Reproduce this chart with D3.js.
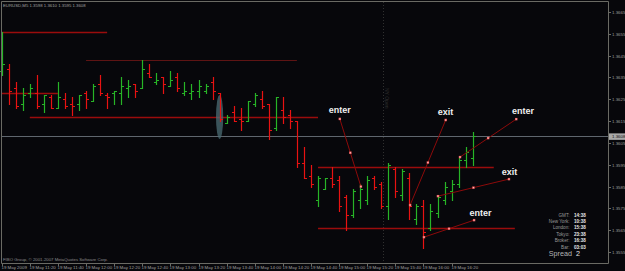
<!DOCTYPE html>
<html>
<head>
<meta charset="utf-8">
<script src="https://cdn.jsdelivr.net/npm/d3@7"></script>
<style>
  html, body { margin: 0; padding: 0; background: #07070b; }
  svg { display: block; }
</style>
</head>
<body>
<div id="chart"></div>
<script>
// EURUSD M5, 19 May 2009, one bar every 5 minutes starting 11:00
const symbol = "EURUSD,M5";
const opens = [
  1.3638, 1.3639, 1.3630, 1.3623, 1.3628, 1.3628, 1.3623, 1.3626, 1.3621, 1.3625,
  1.3623, 1.3623, 1.3628, 1.3624, 1.3632, 1.3627, 1.3628, 1.3628, 1.3630, 1.3632,
  1.3630, 1.3637, 1.3633, 1.3635, 1.3631, 1.3635, 1.3628, 1.3628, 1.3629, 1.3629,
  1.3633, 1.3628, 1.3614, 1.3619, 1.3616, 1.3615, 1.3623, 1.3625, 1.3623, 1.3612,
  1.3620, 1.3618, 1.3615, 1.3596, 1.3590, 1.3579, 1.3584, 1.3589, 1.3588, 1.3580,
  1.3572, 1.3579, 1.3579, 1.3589, 1.3586, 1.3576, 1.3593, 1.3581, 1.3589, 1.3570,
  1.3576, 1.3566, 1.3573, 1.3579, 1.3583, 1.3586, 1.3597, 1.3598
];
const highs = [
  1.3656, 1.3641, 1.3633, 1.3630, 1.3632, 1.3636, 1.3627, 1.3627, 1.3633, 1.3628,
  1.3626, 1.3627, 1.3629, 1.3632, 1.3636, 1.3628, 1.3629, 1.3635, 1.3634, 1.3632,
  1.3643, 1.3641, 1.3637, 1.3635, 1.3638, 1.3637, 1.3633, 1.3632, 1.3634, 1.3632,
  1.3635, 1.3628, 1.3618, 1.3622, 1.3621, 1.3624, 1.3628, 1.3629, 1.3623, 1.3626,
  1.3626, 1.3620, 1.3615, 1.3603, 1.3595, 1.3590, 1.3589, 1.3594, 1.3590, 1.3581,
  1.3584, 1.3586, 1.3590, 1.3590, 1.3587, 1.3596, 1.3594, 1.3593, 1.3591, 1.3577,
  1.3579, 1.3577, 1.3581, 1.3587, 1.3588, 1.3598, 1.3603, 1.3610
];
const lows = [
  1.3636, 1.3623, 1.3621, 1.3620, 1.3626, 1.3621, 1.3619, 1.3621, 1.3621, 1.3621,
  1.3618, 1.3620, 1.3621, 1.3624, 1.3627, 1.3621, 1.3623, 1.3623, 1.3626, 1.3626,
  1.3630, 1.3635, 1.3632, 1.3628, 1.3631, 1.3629, 1.3627, 1.3625, 1.3626, 1.3628,
  1.3625, 1.3615, 1.3614, 1.3615, 1.3611, 1.3615, 1.3622, 1.3621, 1.3607, 1.3611,
  1.3614, 1.3612, 1.3594, 1.3589, 1.3585, 1.3576, 1.3584, 1.3585, 1.3574, 1.3565,
  1.3571, 1.3575, 1.3577, 1.3584, 1.3575, 1.3570, 1.3580, 1.3579, 1.3570, 1.3568,
  1.3557, 1.3565, 1.3571, 1.3577, 1.3579, 1.3585, 1.3594, 1.3595
];
const closes = [
  1.3641, 1.3629, 1.3622, 1.3627, 1.3630, 1.3622, 1.3627, 1.3621, 1.3626, 1.3622,
  1.3622, 1.3627, 1.3625, 1.3631, 1.3628, 1.3626, 1.3629, 1.3631, 1.3631, 1.3629,
  1.3639, 1.3635, 1.3634, 1.3632, 1.3634, 1.3630, 1.3629, 1.3629, 1.3631, 1.3631,
  1.3629, 1.3616, 1.3617, 1.3615, 1.3615, 1.3624, 1.3627, 1.3622, 1.3611, 1.3626,
  1.3617, 1.3615, 1.3596, 1.3589, 1.3586, 1.3589, 1.3589, 1.3586, 1.3576, 1.3572,
  1.3583, 1.3584, 1.3588, 1.3585, 1.3576, 1.3595, 1.3583, 1.3592, 1.3576, 1.3576,
  1.3564, 1.3574, 1.3580, 1.3585, 1.3586, 1.3597, 1.3601, 1.3608
];

// time axis: a label every 4th bar
const timeLabels = [
  "19 May 2009", "19 May 11:20", "19 May 11:40", "19 May 12:00", "19 May 12:20",
  "19 May 12:40", "19 May 13:00", "19 May 13:20", "19 May 13:40", "19 May 14:00",
  "19 May 14:20", "19 May 14:40", "19 May 15:00", "19 May 15:20", "19 May 15:40",
  "19 May 16:00", "19 May 16:20"
];
const priceTicks = [
  1.3665, 1.3655, 1.3645, 1.3635, 1.3625, 1.3615,
  1.3605, 1.3595, 1.3585, 1.3575, 1.3565, 1.3555
];

// horizontal levels: price, first bar, last bar
const levelPrices = [1.3656, 1.3643, 1.3628, 1.3617, 1.3594, 1.3566];
const levelFrom = [0, 12, 0, 4, 45, 45];
const levelTo = [15, 42, 8, 45, 70, 73];

// trend lines drawn on the chart, bar index / price of both ends
const tradeNames = ["enter", "exit", "enter", "exit", "enter"];
const tradeStart = [[51.1, 1.3585], [58.1, 1.35765], [65.2, 1.35985], [62.06, 1.35806], [60.07, 1.35618]];
const tradeEnd = [[48.1, 1.3616], [63.16, 1.36155], [73.2, 1.36159], [72.16, 1.35884], [67.2, 1.35696]];
const tradeLabelAt = [[48.08, 1.36187], [63.13, 1.36178], [74.16, 1.36182], [72.23, 1.35902], [68.1, 1.35717]];

const clockNames = ["GMT:", "New York:", "London:", "Tokyo:", "Broker:", "Bar:"];
const clockValues = ["14:38", "10:38", "15:38", "23:38", "16:38", "03:03"];
const spread = 2;

class mtChart {
  constructor(_config) {
    this.config = {
      parentElement: _config.parentElement,
      containerWidth: _config.containerWidth || 625,
      containerHeight: _config.containerHeight || 271,
      plotRight: 608,
      plotBottom: 263,
    };
    this.initVis();
  }

  initVis() {
    let vis = this;

    vis.svg = d3
      .select(vis.config.parentElement)
      .append("svg")
      .attr("width", vis.config.containerWidth)
      .attr("height", vis.config.containerHeight)
      .style("font-family", "'Liberation Sans', Arial, sans-serif");

    vis.svg
      .append("rect")
      .attr("width", vis.config.containerWidth)
      .attr("height", vis.config.containerHeight)
      .attr("fill", "#07070b");

    vis.x = d3.scaleLinear().domain([-0.24, 86.25]).range([0, vis.config.plotRight]);
    vis.y = d3.scaleLinear().domain([1.3555, 1.3665]).range([252, 12]);

    vis.bars = opens.map((o, i) => ({
      i: i,
      o: o,
      h: highs[i],
      l: lows[i],
      c: closes[i],
    }));

    vis.renderVis();
  }

  renderVis() {
    let vis = this;
    const crisp = (v) => Math.round(v) + 0.5;
    const W = vis.config.plotRight;
    const H = vis.config.plotBottom;
    const last = vis.bars[vis.bars.length - 1];

    // vertical line (session marker) and its caption
    const vx = crisp(vis.x(54.3));
    vis.svg
      .append("line")
      .attr("x1", vx).attr("x2", vx)
      .attr("y1", 2).attr("y2", H)
      .attr("stroke", "#303030")
      .attr("stroke-dasharray", "1,2");
    vis.svg
      .append("text")
      .attr("transform", `translate(${vx + 1.5},88) rotate(90)`)
      .attr("font-size", 5)
      .attr("fill", "#2e2e2e")
      .text("NY Open");

    // bid line
    vis.svg
      .append("line")
      .attr("x1", 2).attr("x2", W)
      .attr("y1", crisp(vis.y(last.c))).attr("y2", crisp(vis.y(last.c)))
      .attr("stroke", "#5f666e");

    // horizontal levels
    vis.svg
      .append("g")
      .selectAll("line")
      .data(levelPrices)
      .join("line")
      .attr("x1", (d, k) => vis.x(levelFrom[k]))
      .attr("x2", (d, k) => vis.x(levelTo[k]))
      .attr("y1", (d) => crisp(vis.y(d)))
      .attr("y2", (d) => crisp(vis.y(d)))
      .attr("stroke", (d, k) => (k === 1 ? "#5e1414" : "#9a0c0c"))
      .attr("stroke-width", (d, k) => (k === 1 ? 1 : 1.3));

    // ellipse marker
    vis.svg
      .append("ellipse")
      .attr("cx", vis.x(31))
      .attr("cy", vis.y(1.36169))
      .attr("rx", 3.6)
      .attr("ry", 22)
      .attr("fill", "#4c6e76")
      .attr("opacity", 0.75);

    // OHLC bars
    const g = vis.svg.append("g");
    vis.bars.forEach((d) => {
      const cx = crisp(vis.x(d.i));
      const col = d.c >= d.o ? "#27b427" : "#e81212";
      g.append("line")
        .attr("x1", cx).attr("x2", cx)
        .attr("y1", Math.round(vis.y(d.h))).attr("y2", Math.round(vis.y(d.l)) + 1)
        .attr("stroke", col)
        .attr("stroke-width", 1.2);
      g.append("line")
        .attr("x1", cx - 2.5).attr("x2", cx)
        .attr("y1", crisp(vis.y(d.o))).attr("y2", crisp(vis.y(d.o)))
        .attr("stroke", col);
      g.append("line")
        .attr("x1", cx).attr("x2", cx + 2.5)
        .attr("y1", crisp(vis.y(d.c))).attr("y2", crisp(vis.y(d.c)))
        .attr("stroke", col);
    });

    // trend lines with the enter / exit notes
    tradeNames.forEach((name, k) => {
      const a = [vis.x(tradeStart[k][0]), vis.y(tradeStart[k][1])];
      const b = [vis.x(tradeEnd[k][0]), vis.y(tradeEnd[k][1])];
      vis.svg
        .append("line")
        .attr("x1", a[0]).attr("y1", a[1])
        .attr("x2", b[0]).attr("y2", b[1])
        .attr("stroke", "#8c0a0a");
      [a, [(a[0] + b[0]) / 2, (a[1] + b[1]) / 2], b].forEach((p) => {
        vis.svg
          .append("rect")
          .attr("x", p[0] - 1.2).attr("y", p[1] - 1.2)
          .attr("width", 2.4).attr("height", 2.4)
          .attr("fill", "#f06060");
        vis.svg
          .append("rect")
          .attr("x", p[0] - 0.5).attr("y", p[1] - 0.5)
          .attr("width", 1).attr("height", 1)
          .attr("fill", "#ffd0d0");
      });
      vis.svg
        .append("text")
        .attr("x", vis.x(tradeLabelAt[k][0]))
        .attr("y", vis.y(tradeLabelAt[k][1]))
        .attr("text-anchor", "middle")
        .attr("font-size", 9)
        .attr("font-weight", "bold")
        .attr("fill", "#f0f0f0")
        .text(name);
    });

    // frame
    vis.svg
      .append("path")
      .attr("d", `M1.5,${H + 0.5}V1.5H${W + 0.5}V${H + 0.5}H1.5`)
      .attr("fill", "none")
      .attr("stroke", "#6a6a64");

    // price axis
    const pa = vis.svg.append("g").attr("font-size", 4.4).attr("fill", "#9c9c9c");
    priceTicks.forEach((p) => {
      const py = crisp(vis.y(p));
      pa.append("line")
        .attr("x1", W).attr("x2", W + 3)
        .attr("y1", py).attr("y2", py)
        .attr("stroke", "#6a6a64");
      pa.append("text")
        .attr("x", W + 4)
        .attr("y", py)
        .attr("dy", "0.35em")
        .text(p.toFixed(4));
    });
    const cy = vis.y(last.c);
    pa.append("rect")
      .attr("x", W + 1).attr("y", cy - 3)
      .attr("width", 17).attr("height", 6.5)
      .attr("fill", "#a8a8a8");
    pa.append("text")
      .attr("x", W + 4).attr("y", cy)
      .attr("dy", "0.35em")
      .attr("fill", "#101010")
      .text(last.c.toFixed(4));

    // time axis
    const ta = vis.svg.append("g").attr("font-size", 4.4).attr("fill", "#a0a0a0");
    timeLabels.forEach((t, k) => {
      const tx = crisp(vis.x(k * 4));
      ta.append("line")
        .attr("x1", tx).attr("x2", tx)
        .attr("y1", H).attr("y2", H + 3)
        .attr("stroke", "#6a6a64");
      ta.append("text")
        .attr("x", tx - 1)
        .attr("y", 269)
        .text(t);
    });

    // header and footer
    vis.svg
      .append("text")
      .attr("x", 3).attr("y", 6.5)
      .attr("font-size", 4.3)
      .attr("fill", "#a0a0a0")
      .text(`${symbol}  ${last.o.toFixed(4)} ${last.h.toFixed(4)} ${last.l.toFixed(4)} ${last.c.toFixed(4)}`);
    vis.svg
      .append("text")
      .attr("x", 3).attr("y", 261)
      .attr("font-size", 4.3)
      .attr("fill", "#8c8c8c")
      .text("FIBO Group, \u00a9 2001-2007 MetaQuotes Software Corp.");

    // clocks panel
    const cp = vis.svg.append("g").attr("font-size", 4.6);
    clockNames.forEach((n, k) => {
      const ry = 216.5 + k * 6.4;
      cp.append("text")
        .attr("x", 569.5).attr("y", ry)
        .attr("text-anchor", "end")
        .attr("fill", "#9a9a9a")
        .text(n);
      cp.append("text")
        .attr("x", 574).attr("y", ry)
        .attr("font-weight", "bold")
        .attr("fill", "#e6e6e6")
        .text(clockValues[k]);
    });
    cp.append("text")
      .attr("x", 572).attr("y", 255.5)
      .attr("text-anchor", "end")
      .attr("font-size", 7.2)
      .attr("fill", "#b4b4b4")
      .text("Spread");
    cp.append("text")
      .attr("x", 576).attr("y", 255.5)
      .attr("font-size", 7.2)
      .attr("fill", "#e6e6e6")
      .text(spread);
  }
}

new mtChart({ parentElement: "#chart" });
</script>
</body>
</html>
